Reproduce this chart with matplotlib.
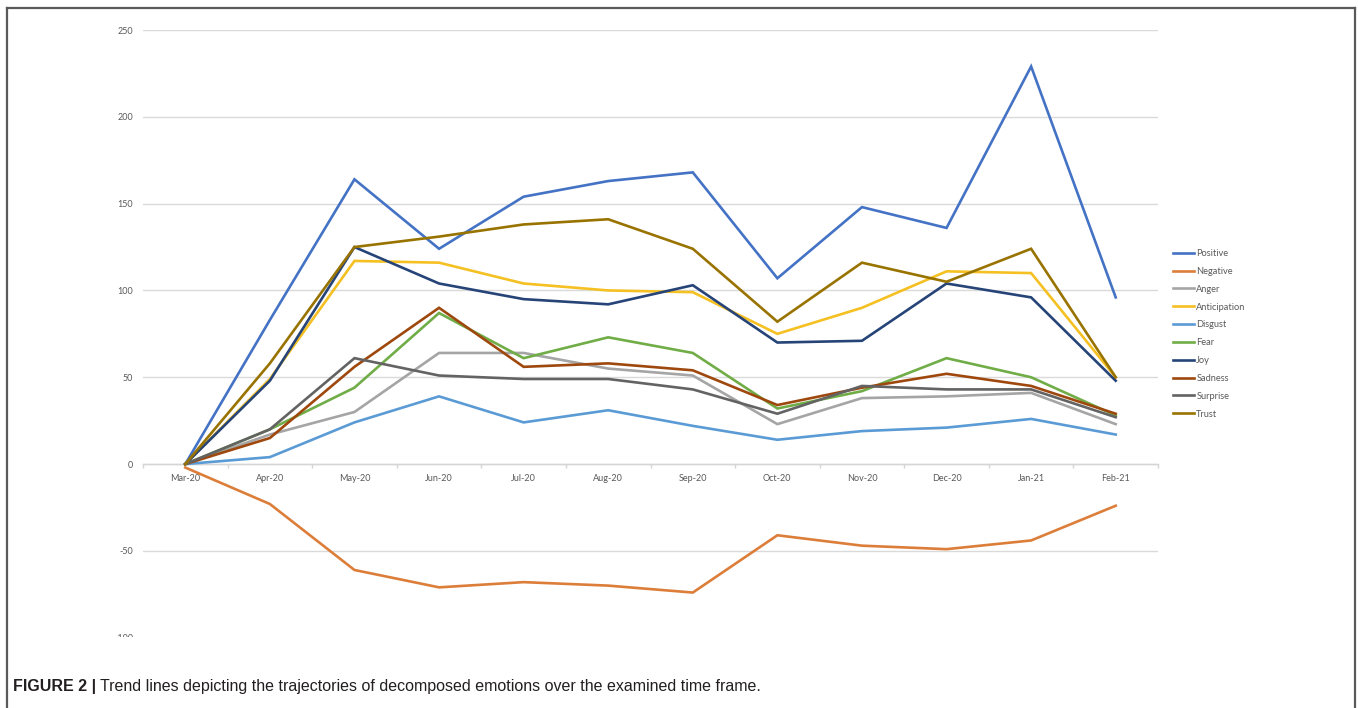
import matplotlib
matplotlib.use("Agg")
import matplotlib.pyplot as plt
from matplotlib.lines import Line2D
from matplotlib.patches import Rectangle

months = ["Mar-20", "Apr-20", "May-20", "Jun-20", "Jul-20", "Aug-20",
          "Sep-20", "Oct-20", "Nov-20", "Dec-20", "Jan-21", "Feb-21"]

positive = [0, 83, 164, 124, 154, 163, 168, 107, 148, 136, 229, 96]
negative = [-2, -23, -61, -71, -68, -70, -74, -41, -47, -49, -44, -24]
anger = [0, 17, 30, 64, 64, 55, 51, 23, 38, 39, 41, 23]
anticipation = [0, 49, 117, 116, 104, 100, 99, 75, 90, 111, 110, 50]
disgust = [0, 4, 24, 39, 24, 31, 22, 14, 19, 21, 26, 17]
fear = [0, 20, 44, 87, 61, 73, 64, 32, 42, 61, 50, 28]
joy = [0, 48, 125, 104, 95, 92, 103, 70, 71, 104, 96, 48]
sadness = [0, 15, 56, 90, 56, 58, 54, 34, 44, 52, 45, 29]
surprise = [0, 20, 61, 51, 49, 49, 43, 29, 45, 43, 43, 27]
trust = [0, 58, 125, 131, 138, 141, 124, 82, 116, 105, 124, 50]

series_names = ["Positive", "Negative", "Anger", "Anticipation", "Disgust",
                "Fear", "Joy", "Sadness", "Surprise", "Trust"]
series_values = [positive, negative, anger, anticipation, disgust,
                 fear, joy, sadness, surprise, trust]
series_colors = ["#4472C4", "#DC7E3A", "#A5A5A5", "#F5C022", "#5B9BD5",
                 "#70AD47", "#264478", "#9E480E", "#636363", "#997300"]

y_ticks = [-100, -50, 0, 50, 100, 150, 200, 250]

W, H = 1358, 708
fig = plt.figure(figsize=(W / 100, H / 100), dpi=100)
fig.patch.set_facecolor("white")

ax = fig.add_axes([143 / W, (H - 637.7) / H, (1158 - 143) / W, (637.7 - 30) / H])

x = list(range(len(months)))
for name, vals, col in zip(series_names, series_values, series_colors):
    ax.plot(x, vals, color=col, lw=1.9, label=name, solid_joinstyle="miter",
            zorder=3)

ax.set_xlim(-0.5, len(months) - 0.5)
ax.set_ylim(-100, 250)
ax.set_yticks(y_ticks)
ax.set_yticklabels([str(v) for v in y_ticks])
ax.grid(axis="y", color="#DADADA", lw=1.0)
ax.set_axisbelow(True)

for side in ("left", "right", "top"):
    ax.spines[side].set_visible(False)
ax.spines["bottom"].set_position(("data", 0))
ax.spines["bottom"].set_color("#D5D5D5")
ax.spines["bottom"].set_linewidth(1.0)

tick_font = dict(family=["Lato", "DejaVu Sans"], size=6.5, color="#595959")
ax.set_xticks(x)
ax.set_xticklabels(months, **tick_font)
ax.set_xticks([i - 0.5 for i in range(len(months) + 1)], minor=True)
ax.tick_params(axis="x", which="major", length=0, pad=7)
ax.tick_params(axis="x", which="minor", length=3, color="#D5D5D5", width=1.0)
ax.tick_params(axis="y", length=0, pad=7)
for lbl in ax.get_yticklabels():
    lbl.set_fontfamily(["Lato", "DejaVu Sans"])
    lbl.set_fontsize(6.5)
    lbl.set_color("#595959")

handles = [Line2D([], [], color=c, lw=1.9) for c in series_colors]
fig.legend(handles, series_names, loc="upper left",
           bbox_to_anchor=(1173 / W, (H - 249) / H),
           bbox_transform=fig.transFigure, frameon=False,
           borderpad=0, borderaxespad=0, handlelength=2.3,
           handletextpad=0.2, labelspacing=0.95,
           prop=dict(family=["Lato", "DejaVu Sans"], size=6.7),
           labelcolor="#595959")

# the lower edge of the chart area is cut off just below the -100 tick
fig.patches.append(Rectangle((0.006, 35 / H), 0.99, (H - 637 - 35) / H,
                             transform=fig.transFigure, facecolor="white",
                             edgecolor="none", zorder=10))

# outer frame (left, top and right edges)
frame_kw = dict(color="#5A5A5A", lw=1.6, transform=fig.transFigure, zorder=11)
fig.add_artist(Line2D([7 / W, 7 / W], [0, (H - 8) / H], **frame_kw))
fig.add_artist(Line2D([7 / W, 1355 / W], [(H - 8) / H, (H - 8) / H], **frame_kw))
fig.add_artist(Line2D([1355 / W, 1355 / W], [0, (H - 8) / H], **frame_kw))

cap_font = ["Liberation Sans Narrow", "Liberation Sans", "DejaVu Sans"]
cap_y = (H - 687) / H
t1 = fig.text(13 / W, cap_y, "FIGURE 2 |", family=cap_font, weight="bold",
              size=11.5, color="#231F20", va="center", ha="left", zorder=12)
fig.canvas.draw()
bb = t1.get_window_extent()
fig.text((bb.x1 + 4) / W, cap_y,
         "Trend lines depicting the trajectories of decomposed emotions over the examined time frame.",
         family=cap_font, size=11.5, color="#231F20", va="center", ha="left",
         zorder=12)

fig.savefig("out.png", dpi=100, facecolor="white")
